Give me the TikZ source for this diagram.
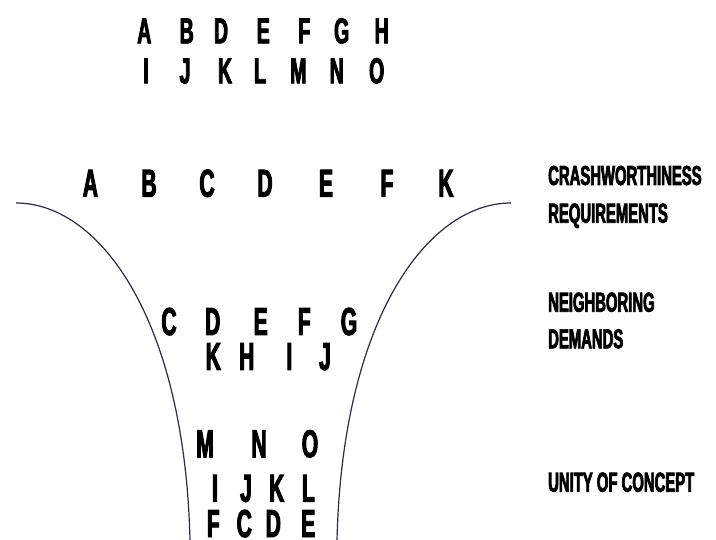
\documentclass[tikz,border=0pt]{standalone}
\usepackage{fontspec}
\setmainfont{Liberation Sans}[FakeStretch=0.54, BoldFeatures={FakeBold=2.5}]
\definecolor{curvecol}{RGB}{40,44,66}
\begin{document}
\begin{tikzpicture}[x=1pt,y=-1pt,
  lettertop/.style={font=\fontsize{36}{36}\selectfont\bfseries, anchor=base, inner sep=0pt},
  letterbig/.style={font=\fontsize{39}{39}\selectfont\bfseries, anchor=base, inner sep=0pt},
  label/.style={font=\fontsize{27.5}{27.5}\selectfont\bfseries, anchor=base west, inner sep=0pt},
  funnel/.style={draw=curvecol, line width=1.2pt}]
\useasboundingbox (0,0) rectangle (716,540);
% top group
\foreach \l/\x in {A/144.3,B/186.7,D/221,E/263.3,F/304.3,G/341.7,H/381.7}
  \node[lettertop] (t1\l) at (\x,43.3) {\l};
\foreach \l/\x in {I/146,J/185,K/225,L/260,M/298.3,N/336.7,O/376.7}
  \node[lettertop] (t2\l) at (\x,83.3) {\l};
% funnel top row
\foreach \l/\x in {A/90.4,B/149,C/207,D/265,E/326,F/387,K/446}
  \node[letterbig] (f1\l) at (\x,196.7) {\l};
% middle group
\foreach \l/\x in {C/169,D/212.7,E/260.7,F/304.3,G/349}
  \node[letterbig] (m1\l) at (\x,335) {\l};
\foreach \l/\x in {K/213.3,H/246.7,I/289.3,J/325}
  \node[letterbig] (m2\l) at (\x,370) {\l};
% bottom group
\foreach \l/\x in {M/205,N/259,O/310}
  \node[letterbig] (b1\l) at (\x,457.3) {\l};
\foreach \l/\x in {I/215,J/246,K/276.7,L/308.3}
  \node[letterbig] (b2\l) at (\x,501.7) {\l};
\foreach \l/\x in {F/213.3,C/244.3,D/273.3,E/308.3}
  \node[letterbig] (b3\l) at (\x,537) {\l};
% labels
\node[label] (crash) at (548,185) {CRASHWORTHINESS};
\node[label] (req) at (548,222.7) {REQUIREMENTS};
\node[label] (neigh) at (548,311.7) {NEIGHBORING};
\node[label] (dem) at (548,348.3) {DEMANDS};
\node[label] (unity) at (548,491.7) {UNITY OF CONCEPT};
% funnel curves
\coordinate (lt) at (16,203);
\coordinate (lb) at (190,541);
\coordinate (rt) at (511,203);
\coordinate (rb) at (337,541);
\draw[funnel] (lt) .. controls (100,203) and (185,320) .. (lb);
\draw[funnel] (rt) .. controls (427,203) and (342,320) .. (rb);
\end{tikzpicture}
\end{document}
